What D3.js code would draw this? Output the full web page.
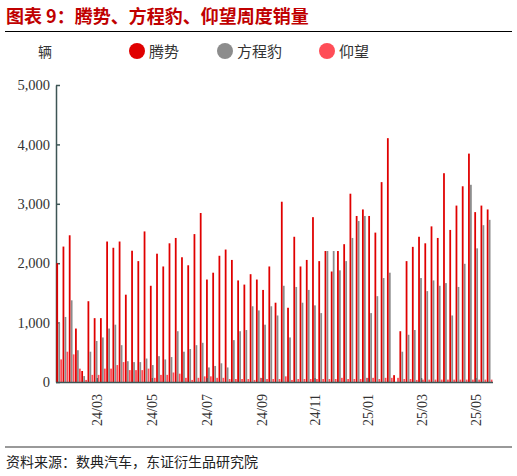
<!DOCTYPE html>
<html><head><meta charset="utf-8">
<script src="https://cdn.jsdelivr.net/npm/d3@7/dist/d3.min.js"></script>
<style>body{margin:0;background:#fff}</style></head>
<body><svg id="c" width="517" height="476"></svg>
<script>
const series = ["腾势","方程豹","仰望"];
const colors = ["#e00000","#8c8c8c","#ff4d57"];
const tengshi = [2000,2280,2470,900,185,1360,1075,1075,2365,2260,2365,1470,2210,2035,2535,1620,2160,1945,2335,2425,2100,1965,2490,2845,1725,1840,2125,2230,2055,1710,1640,1815,1725,1550,1945,1335,3035,1250,2445,1945,2055,2775,2035,2205,1860,2205,2320,3170,2795,2905,2795,2515,3365,4105,115,855,2035,2275,2445,2335,2620,2425,3515,2560,2970,3295,3845,2860,2970,2905];
const fangchengbao = [995,1095,1375,535,100,510,690,750,900,965,620,350,335,335,395,285,435,380,420,855,510,555,620,660,245,270,315,245,705,855,875,1275,1205,965,1275,1120,1620,750,1600,1335,1550,1290,1160,2205,2205,1880,2035,2425,2710,2795,1160,1445,1750,1840,0,510,795,875,1750,1530,1710,1620,1665,1120,1600,1990,3320,2250,2640,2730];
const yangwang = [380,510,465,225,35,120,120,225,225,285,335,200,200,200,225,70,120,120,160,140,70,35,70,95,95,70,70,50,50,50,50,35,70,50,50,50,95,35,50,50,50,50,50,50,50,70,50,50,50,70,70,50,70,70,70,50,50,35,40,40,40,40,40,40,40,40,40,40,40,40];
const yTicks = [0,1000,2000,3000,4000,5000];
const xTickLabels = ["24/03","24/05","24/07","24/09","24/11","25/01","25/03","25/05"];
const xTickIndex = [6.1,14.9,23.7,32.5,41,49.5,58.1,66.8];

const svg = d3.select("#c");
const font = "'Liberation Serif','Noto Serif CJK SC','Noto Sans CJK SC',serif";
svg.append("text").attr("x",6).attr("y",23).attr("fill","#c00000").attr("font-weight","bold")
  .attr("font-size",18).attr("font-family","'Noto Sans CJK SC'").text("图表 9：腾势、方程豹、仰望周度销量");
svg.append("line").attr("x1",5).attr("x2",512).attr("y1",31.5).attr("y2",31.5).attr("stroke","#000").attr("stroke-width",1);

const x0 = 56, x1 = 493;
const n = tengshi.length;
const x = d3.scaleBand().domain(d3.range(n)).range([x0,x1]).paddingInner(0.05).paddingOuter(0.05);
const xi = i => x(0) + i*x.step() + x.bandwidth()/2;
const y = d3.scaleLinear().domain([0,5000]).range([382,85]);

svg.append("g").attr("transform",`translate(${x0},0)`)
  .call(d3.axisLeft(y).tickValues(yTicks).tickFormat(d3.format(",")).tickSize(-4).tickPadding(6).tickSizeOuter(0))
  .call(g=>{g.selectAll("text").attr("font-family",font).attr("font-size",14.5).attr("fill","#333");
    g.selectAll("line,path").attr("stroke","#3d5555").attr("stroke-width",1.5);});

const data = [tengshi,fangchengbao,yangwang];
const bw = x.bandwidth()/3;
data.forEach((arr,s)=>{
  svg.append("g").selectAll("rect").data(arr).join("rect")
    .attr("x",(d,i)=>x(i)+s*bw).attr("width",bw*0.9)
    .attr("y",d=>y(d)).attr("height",d=>y(0)-y(d)).attr("fill",colors[s]);
});
svg.append("line").attr("x1",x0).attr("x2",x1).attr("y1",382.5).attr("y2",382.5).attr("stroke","#3d5555").attr("stroke-width",1.5);

const xl = svg.append("g");
xTickLabels.forEach((t,k)=>{
  const px = xi(xTickIndex[k]);
  xl.append("line").attr("x1",px).attr("x2",px).attr("y1",378).attr("y2",382).attr("stroke","#3d5555");
  xl.append("text").attr("transform",`translate(${px+5},${394}) rotate(-90)`).attr("text-anchor","end")
    .attr("font-family",font).attr("font-size",14).attr("fill","#333").text(t);
});

svg.append("text").attr("x",38).attr("y",57).attr("font-family","'Noto Sans CJK SC'").attr("font-size",14).attr("fill","#333").text("辆");
const lx = [137,225,327];
series.forEach((s,i)=>{
  svg.append("circle").attr("cx",lx[i]).attr("cy",51).attr("r",8).attr("fill",colors[i]);
  svg.append("text").attr("x",lx[i]+12).attr("y",57).attr("font-family","'Noto Sans CJK SC'").attr("font-size",15).attr("fill","#333").text(s);
});

svg.append("line").attr("x1",5).attr("x2",512).attr("y1",447).attr("y2",447).attr("stroke","#777").attr("stroke-width",1.5);
svg.append("text").attr("x",6).attr("y",467).attr("font-family","'Noto Sans CJK SC'").attr("font-size",14).attr("fill","#222").text("资料来源：数典汽车，东证衍生品研究院");
</script></body></html>
